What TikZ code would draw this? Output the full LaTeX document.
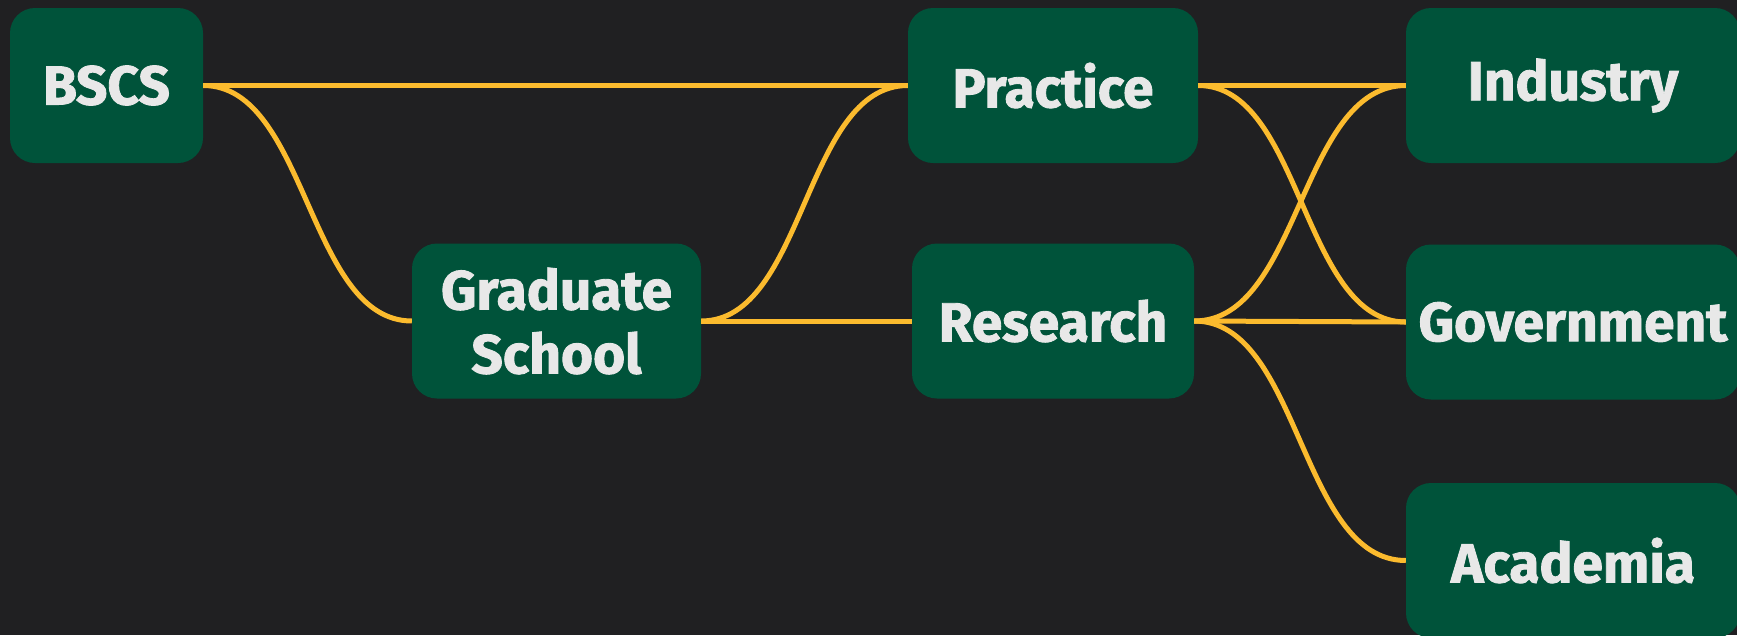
\documentclass[tikz,border=0pt]{standalone}
\usepackage{fontspec}
\newfontfamily\heavy{Fira Sans}[BoldFeatures={FakeBold=1.6}]
\usetikzlibrary{calc}
\definecolor{bg}{RGB}{32,32,34}
\definecolor{boxgreen}{RGB}{0,83,58}
\definecolor{linecol}{RGB}{251,187,46}
\definecolor{txt}{RGB}{232,232,232}
\begin{document}
\begin{tikzpicture}[x=1pt,y=-1pt,
  box/.style={draw=none, fill=boxgreen, rounded corners=25pt, inner sep=0pt,
    minimum height=155pt, text=txt, align=center,
    font=\heavy\bfseries\fontsize{55}{64}\selectfont},
  conn/.style={draw=linecol, line width=5pt}]
\useasboundingbox (0,0) rectangle (1737,635);
\fill[bg] (0,0) rectangle (1737,635);
\clip (0,0) rectangle (1737,635);
\node[box, minimum width=193pt] (bscs) at (106.5,85.5) {BSCS};
\node[box, minimum width=289pt] (grad) at (556.5,321) {Graduate\\School};
\node[box, minimum width=290pt] (prac) at (1053,85.5) {Practice};
\node[box, minimum width=282pt] (res) at (1053,321) {Research};
\node[box, minimum width=334pt] (ind) at (1573,85.5) {Industry};
\node[box, minimum width=334pt] (gov) at (1573,322) {Government};
\node[box, minimum width=334pt] (aca) at (1573,560.5) {Academia};
\begin{scope}[conn]
\draw (bscs.east) -- (prac.west);
\draw (bscs.east) .. controls ($(bscs.east)+(104,0)$) and ($(grad.west)-(104,0)$) .. (grad.west);
\draw (grad.east) .. controls ($(grad.east)+(104,0)$) and ($(prac.west)-(104,0)$) .. (prac.west);
\draw (grad.east) -- (res.west);
\draw (prac.east) -- (ind.west);
\draw (prac.east) .. controls ($(prac.east)+(104,0)$) and ($(gov.west)-(104,0)$) .. (gov.west);
\draw (res.east) .. controls ($(res.east)+(106,0)$) and ($(ind.west)-(106,0)$) .. (ind.west);
\draw (res.east) -- (gov.west);
\draw (res.east) .. controls ($(res.east)+(106,0)$) and ($(aca.west)-(106,0)$) .. (aca.west);
\end{scope}
\end{tikzpicture}
\end{document}
